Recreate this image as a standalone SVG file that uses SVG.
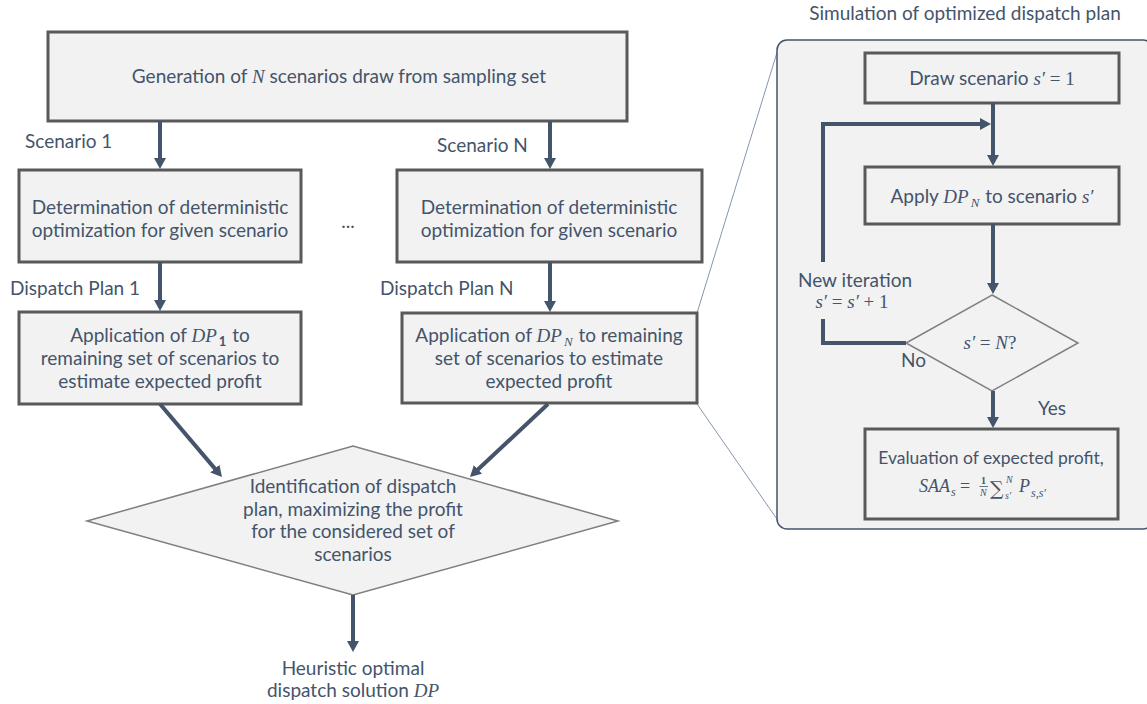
<svg xmlns="http://www.w3.org/2000/svg" width="1147" height="704" viewBox="0 0 1147 704">
<defs>
<style>
.box{fill:#f2f2f2;stroke:#595959;stroke-width:3}
.dia{fill:#f2f2f2;stroke:#7f7f7f;stroke-width:1.5}
.panel{fill:#f2f2f2;stroke:#44546a;stroke-width:1.5}
.t{font-family:Lato,"Open Sans",sans-serif;font-size:19px;fill:#44546a}
.c{text-anchor:middle}
.m{font-family:"Liberation Serif","DejaVu Serif",serif;font-style:italic}
.u{font-family:"Liberation Serif","DejaVu Serif",serif;font-style:normal}
.sub{font-size:13px}
.ln{fill:none;stroke:#44546a;stroke-width:4}
.zoom{fill:none;stroke:#8497b0;stroke-width:1}
</style>
<marker id="ah" markerUnits="userSpaceOnUse" markerWidth="12" markerHeight="12" refX="3" refY="6" orient="auto">
<path d="M0,0 L11,6 L0,12 z" fill="#44546a"/>
</marker>
</defs>
<rect width="1147" height="704" fill="#ffffff"/>

<g id="zoom-lines">
<line class="zoom" x1="697" y1="313" x2="779" y2="46"/>
<line class="zoom" x1="697" y1="404" x2="779" y2="522"/>
</g>

<g id="panel">
<rect class="panel" x="777" y="40" width="376" height="489" rx="10"/>
<text class="t c" x="965" y="20">Simulation of optimized dispatch plan</text>
</g>

<g id="n-generate">
<rect class="box" x="48" y="32" width="579" height="89"/>
<text class="t c" x="339" y="83">Generation of <tspan class="m">N</tspan> scenarios draw from sampling set</text>
</g>

<g id="n-det1">
<rect class="box" x="19" y="170" width="282" height="92"/>
<text class="t c" x="160" y="214">Determination of deterministic</text>
<text class="t c" x="160" y="237">optimization for given scenario</text>
</g>

<g id="n-detN">
<rect class="box" x="397" y="170" width="305" height="92"/>
<text class="t c" x="549" y="214">Determination of deterministic</text>
<text class="t c" x="549" y="237">optimization for given scenario</text>
</g>

<g id="n-ellipsis">
<text class="t c" x="348" y="228">...</text>
</g>

<g id="n-app1">
<rect class="box" x="19" y="312" width="282" height="92"/>
<text class="t c" x="160" y="342">Application of <tspan class="m">DP</tspan><tspan class="sub" dx="2" dy="4" font-weight="bold">1</tspan><tspan dx="1" dy="-4"> to</tspan></text>
<text class="t c" x="160" y="365">remaining set of scenarios to</text>
<text class="t c" x="160" y="388">estimate expected profit</text>
</g>

<g id="n-appN">
<rect class="box" x="402" y="313" width="295" height="90"/>
<text class="t c" x="549" y="342">Application of <tspan class="m">DP</tspan><tspan class="m sub" dx="2" dy="4">N</tspan><tspan dx="1" dy="-4"> to remaining</tspan></text>
<text class="t c" x="549" y="365">set of scenarios to estimate</text>
<text class="t c" x="549" y="388">expected profit</text>
</g>

<g id="n-identify">
<polygon class="dia" points="87,521 353,446 618,521 353,595"/>
<text class="t c" x="353" y="493">Identification of dispatch</text>
<text class="t c" x="353" y="516">plan, maximizing the profit</text>
<text class="t c" x="353" y="538">for the considered set of</text>
<text class="t c" x="353" y="561">scenarios</text>
</g>

<g id="n-result">
<text class="t c" x="353" y="675">Heuristic optimal</text>
<text class="t c" x="353" y="697">dispatch solution <tspan class="m">DP</tspan></text>
</g>

<g id="n-draw">
<rect class="box" x="865" y="53" width="254" height="50"/>
<text class="t c" x="992" y="85">Draw scenario <tspan class="m">s′</tspan><tspan class="u"> = 1</tspan></text>
</g>

<g id="n-apply">
<rect class="box" x="865" y="167" width="254" height="57"/>
<text class="t c" x="992" y="203">Apply <tspan class="m">DP</tspan><tspan class="m sub" dx="2" dy="4">N</tspan><tspan dx="1" dy="-4"> to scenario </tspan><tspan class="m">s′</tspan></text>
</g>

<g id="n-check">
<polygon class="dia" points="992,295 1078,343 992,391 906,343"/>
<text class="t c m" x="990" y="349">s′ <tspan class="u">=</tspan> N<tspan class="u">?</tspan></text>
</g>

<g id="n-eval">
<rect class="box" x="865" y="429" width="253" height="90"/>
<text class="t c" x="991" y="464" style="font-size:17.5px">Evaluation of expected profit,</text>
<text class="t m" x="919" y="492" style="font-size:18px">SAA</text>
<text class="t m" x="951" y="496" style="font-size:12px">s</text>
<text class="t u" x="960" y="492" style="font-size:18px">=</text>
<text class="t u" x="981" y="484" style="font-size:10px;font-weight:bold">1</text>
<line x1="979.5" y1="486.5" x2="988" y2="486.5" stroke="#44546a" stroke-width="0.8"/>
<text class="t m" x="980" y="496" style="font-size:10px">N</text>
<text class="t u" x="990" y="495" style="font-family:'DejaVu Serif',serif;font-size:19px">∑</text>
<text class="t m" x="1006" y="483" style="font-size:10px">N</text>
<text class="t m" x="1005" y="499" style="font-size:10px">s′</text>
<text class="t m" x="1019" y="492" style="font-size:18px">P</text>
<text class="t m" x="1031" y="497" style="font-size:12px">s,s′</text>
</g>

<g id="connectors">
<line class="ln" x1="160" y1="121" x2="160" y2="161" marker-end="url(#ah)"/>
<line class="ln" x1="550" y1="121" x2="550" y2="161" marker-end="url(#ah)"/>
<line class="ln" x1="160" y1="262" x2="160" y2="303" marker-end="url(#ah)"/>
<line class="ln" x1="550" y1="262" x2="550" y2="304" marker-end="url(#ah)"/>
<line class="ln" x1="160" y1="404" x2="216.8" y2="470.9" marker-end="url(#ah)"/>
<line class="ln" x1="548" y1="404" x2="475.8" y2="471.5" marker-end="url(#ah)"/>
<line class="ln" x1="353" y1="595" x2="353" y2="644" marker-end="url(#ah)"/>
<line class="ln" x1="993" y1="103" x2="993" y2="158" marker-end="url(#ah)"/>
<polyline class="ln" points="823,262 823,124 983,124" marker-end="url(#ah)"/>
<line class="ln" x1="993" y1="224" x2="993" y2="286" marker-end="url(#ah)"/>
<polyline class="ln" points="906,343 823,343 823,319"/>
<line class="ln" x1="993" y1="391" x2="993" y2="420" marker-end="url(#ah)"/>
</g>

<g id="labels">
<text class="t" x="25" y="148">Scenario 1</text>
<text class="t" x="437" y="152">Scenario N</text>
<text class="t" x="10" y="295">Dispatch Plan 1</text>
<text class="t" x="380" y="295">Dispatch Plan N</text>
<text class="t c" x="855" y="287">New iteration</text>
<text class="t c m" x="852" y="308">s′ <tspan class="u">= </tspan>s′ <tspan class="u">+ 1</tspan></text>
<text class="t" x="901" y="367">No</text>
<text class="t" x="1038" y="415">Yes</text>
</g>
</svg>
